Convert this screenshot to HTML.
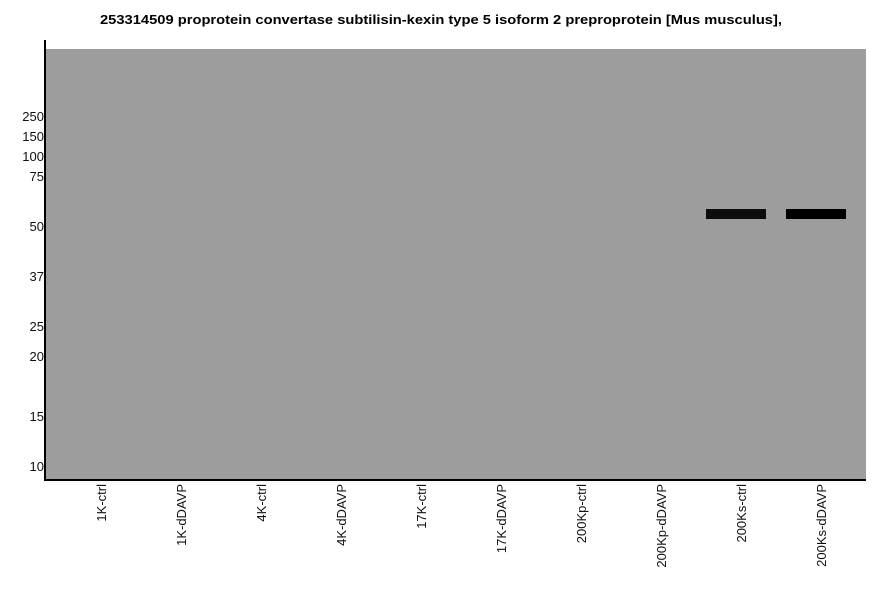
<!DOCTYPE html>
<html><head><meta charset="utf-8"><style>html,body{margin:0;padding:0;background:#fff}</style></head>
<body>
<svg width="886" height="595" xmlns="http://www.w3.org/2000/svg" font-family="Liberation Sans, sans-serif">
<rect width="886" height="595" fill="#fff"/>
<text x="100" y="24" font-size="13" font-weight="bold" textLength="682" lengthAdjust="spacingAndGlyphs">253314509 proprotein convertase subtilisin-kexin type 5 isoform 2 preproprotein [Mus musculus],</text>
<rect x="46" y="49" width="820" height="430" fill="#9c9d9c"/>
<rect x="44" y="40" width="2" height="441" fill="#000"/>
<rect x="44" y="479" width="822" height="2" fill="#000"/>
<rect x="706" y="209" width="60" height="10" fill="#0d0d0d"/>
<rect x="786" y="209" width="60" height="10" fill="#000"/>
<g font-size="13" text-anchor="end" fill="#111">
<text x="44" y="121">250</text><text x="44" y="141">150</text><text x="44" y="161">100</text><text x="44" y="181">75</text>
<text x="44" y="231">50</text><text x="44" y="281">37</text><text x="44" y="331">25</text><text x="44" y="361">20</text>
<text x="44" y="421">15</text><text x="44" y="471">10</text>
</g>
<g font-size="13" text-anchor="end" fill="#111">
<text transform="translate(106,484) rotate(-90)">1K-ctrl</text>
<text transform="translate(186,484) rotate(-90)">1K-dDAVP</text>
<text transform="translate(266,484) rotate(-90)">4K-ctrl</text>
<text transform="translate(346,484) rotate(-90)">4K-dDAVP</text>
<text transform="translate(426,484) rotate(-90)">17K-ctrl</text>
<text transform="translate(506,484) rotate(-90)">17K-dDAVP</text>
<text transform="translate(586,484) rotate(-90)">200Kp-ctrl</text>
<text transform="translate(666,484) rotate(-90)">200Kp-dDAVP</text>
<text transform="translate(746,484) rotate(-90)">200Ks-ctrl</text>
<text transform="translate(826,484) rotate(-90)">200Ks-dDAVP</text>
</g>
</svg>
</body></html>
